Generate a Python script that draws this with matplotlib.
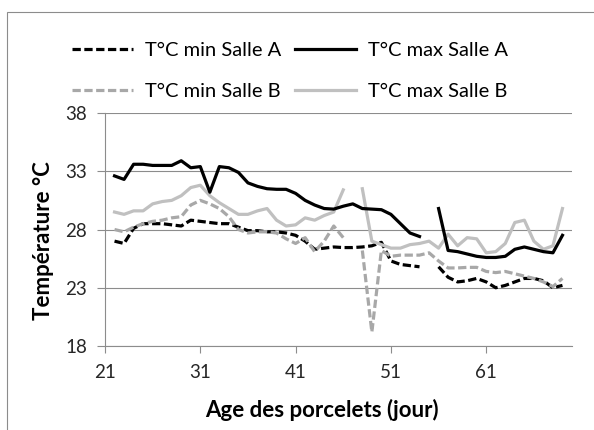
import numpy as np
import matplotlib
matplotlib.use("Agg")
import matplotlib.pyplot as plt
from matplotlib.patches import Rectangle

plt.rcParams['font.family'] = ['Lato', 'DejaVu Sans']

# jours d'age des porcelets
days = np.arange(22, 70)
nan = np.nan

t_min_a = [27.0, 26.8, 28.1, 28.5, 28.5, 28.5, 28.4, 28.3, 28.8, 28.7,
           28.6, 28.5, 28.5, 28.2, 27.9, 27.9, 27.8, 27.8, 27.7, 27.5,
           27.0, 26.3, 26.4, 26.5, 26.45, 26.45, 26.5, 26.6, 26.9, 25.3,
           25.0, 24.9, 24.8, nan, 24.8, 23.9, 23.5, 23.6, 23.8, 23.5,
           23.0, 23.2, 23.5, 23.8, 23.8, 23.6, 23.0, 23.2]
t_max_a = [32.6, 32.3, 33.6, 33.6, 33.5, 33.5, 33.5, 33.9, 33.3, 33.4,
           31.2, 33.4, 33.3, 32.9, 32.0, 31.7, 31.5, 31.45, 31.45, 31.1,
           30.5, 30.1, 29.8, 29.75, 30.0, 30.2, 29.8, 29.75, 29.7, 29.3,
           28.5, 27.7, 27.4, nan, 29.8, 26.2, 26.1, 25.9, 25.7, 25.6,
           25.6, 25.7, 26.3, 26.5, 26.3, 26.1, 26.0, 27.5]
t_min_b = [28.0, 27.8, 28.2, 28.5, 28.7, 28.8, 29.0, 29.1, 30.1, 30.5,
           30.2, 29.8, 29.1, 28.0, 27.7, 27.8, 27.8, 27.7, 27.2, 26.8,
           27.3, 26.1, 27.0, 28.3, 27.3, nan, 26.2, 19.2, 26.2, 25.7,
           25.8, 25.8, 25.8, 26.0, 25.3, 24.7, 24.7, 24.75, 24.75, 24.4,
           24.3, 24.4, 24.2, 24.0, 23.8, 23.5, 23.1, 23.8]
t_max_b = [29.5, 29.3, 29.6, 29.6, 30.2, 30.4, 30.5, 30.9, 31.6, 31.8,
           30.9, 30.3, 29.8, 29.3, 29.3, 29.6, 29.8, 28.8, 28.3, 28.4,
           29.0, 28.8, 29.2, 29.5, 31.4, nan, 31.5, 27.0, 26.7, 26.4,
           26.4, 26.7, 26.8, 27.0, 26.4, 27.6, 26.6, 27.3, 27.2, 26.0,
           26.1, 26.8, 28.6, 28.8, 27.0, 26.3, 26.6, 29.8]

x_ticks = [21, 31, 41, 51, 61]
y_ticks = [18, 23, 28, 33, 38]

grid_col = '#8c8c8c'
gray_dash = '#a8a8a8'
gray_solid = '#c0c0c0'

fig = plt.figure(figsize=(5.94, 4.30), dpi=100)
ax = fig.add_axes([105 / 594, 1 - 346 / 430, 467 / 594, 233 / 430])

lw = 2.3
dash = (2.6, 1.1)
l1, = ax.plot(days, t_min_a, color='black', lw=lw, dashes=dash, label='T°C min Salle A')
l3, = ax.plot(days, t_min_b, color=gray_dash, lw=lw, dashes=dash, label='T°C min Salle B')
l4, = ax.plot(days, t_max_b, color=gray_solid, lw=lw, label='T°C max Salle B')
l2, = ax.plot(days, t_max_a, color='black', lw=lw, label='T°C max Salle A')
for l in (l1, l2, l3, l4):
    l.set_solid_joinstyle('round')

ax.set_xlim(21, 70)
ax.set_ylim(18, 38)
ax.set_xticks(x_ticks)
ax.set_yticks(y_ticks)
ax.yaxis.grid(True, color=grid_col, lw=0.8)
ax.set_axisbelow(True)
for s in ('top', 'right'):
    ax.spines[s].set_visible(False)
for s in ('left', 'bottom'):
    ax.spines[s].set_color(grid_col)
    ax.spines[s].set_linewidth(0.8)
ax.tick_params(axis='y', length=6, width=0.8, color=grid_col, pad=7, labelsize=13.5, labelcolor='#262626')
ax.tick_params(axis='x', length=5, width=0.8, color=grid_col, pad=8, labelsize=13.5, labelcolor='#262626')

fig.text(44 / 594, 1 - 241 / 430, 'Température °C', rotation=90, ha='center', va='center',
         fontsize=16, fontweight='bold')
fig.text(322 / 594, 1 - 410 / 430, 'Age des porcelets (jour)', ha='center', va='center',
         fontsize=16, fontweight='bold')

fig.legend(handles=[l1, l3, l2, l4], ncol=2, loc='center',
           bbox_to_anchor=(290 / 594, 1 - 71 / 430), frameon=False,
           fontsize=14.5, handlelength=3.0, handletextpad=0.6,
           columnspacing=0.7, labelspacing=1.15)

# cadre de la zone du graphique
fig.patches.append(Rectangle((7 / 594, -0.05), 1.2, 1 - 12 / 430 + 0.05,
                             transform=fig.transFigure, fill=False,
                             edgecolor='#8c8c8c', lw=0.8))

fig.savefig('out.png', dpi=100)
